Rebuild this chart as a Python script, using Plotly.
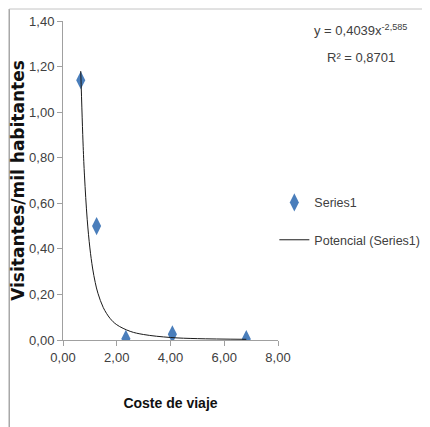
import plotly.graph_objects as go

# observed points
coste = [0.66, 1.25, 2.34, 4.07, 6.82]
visitantes = [1.14, 0.50, 0.005, 0.025, 0.004]

# power trend line
trend_x = [0.66, 0.75, 0.8, 0.9, 1.0, 1.1, 1.2, 1.3, 1.5, 1.75, 2.0, 2.5, 3.0, 4.0, 5.0, 6.82]
trend_y = [1.18, 0.85, 0.72, 0.53, 0.404, 0.316, 0.252, 0.205, 0.142, 0.095, 0.067, 0.038, 0.024, 0.011, 0.006, 0.003]

x_ticks = [0, 2, 4, 6, 8]
y_ticks = [0, 0.2, 0.4, 0.6, 0.8, 1.0, 1.2, 1.4]

eq_line = "y = 0,4039x<sup>-2,585</sup>"
r2_line = "R² = 0,8701"

sans = "Liberation Sans, Arial, sans-serif"
grey = "#404040"

fig = go.Figure()
fig.add_trace(go.Scatter(
    x=coste, y=visitantes, mode="markers", name="Series1",
    marker=dict(symbol="diamond-tall", size=13, color="#4A7EBB"),
    legend="legend",
))
fig.add_trace(go.Scatter(
    x=trend_x, y=trend_y, mode="lines", name="Potencial (Series1)",
    line=dict(color="#1a1a1a", width=1, shape="spline"),
    legend="legend2",
))

legend_style = dict(xanchor="left", yanchor="middle", itemwidth=30,
                    font=dict(family=sans, size=12.5, color=grey),
                    bgcolor="rgba(0,0,0,0)", borderwidth=0)

# the page sits 8px in from the window corner, so margins are shifted
fig.update_layout(
    width=430, height=427,
    margin=dict(l=55, r=160, t=13, b=95, autoexpand=False),
    paper_bgcolor="white", plot_bgcolor="white",
    separators=",.",
    showlegend=True,
    font=dict(family=sans, size=13, color=grey),
    legend=dict(x=0.983, y=0.43, **legend_style),
    legend2=dict(x=0.983, y=0.313, **legend_style),
    shapes=[
        dict(type="line", xref="paper", yref="paper",
             x0=-0.25, x1=-0.25, y0=-0.3, y1=1.0376,
             line=dict(color="#a8a8a8", width=1.5)),
        dict(type="line", xref="paper", yref="paper",
             x0=-0.25, x1=1.8, y0=1.0376, y1=1.0376,
             line=dict(color="#c4c4c4", width=1)),
    ],
    annotations=[
        dict(xref="paper", yref="paper", x=1.386, y=0.972,
             xanchor="center", yanchor="middle",
             showarrow=False, text=eq_line,
             font=dict(family=sans, size=13, color=grey)),
        dict(xref="paper", yref="paper", x=1.386, y=0.887,
             xanchor="center", yanchor="middle",
             showarrow=False, text=r2_line,
             font=dict(family=sans, size=13, color=grey)),
    ],
)

fig.update_xaxes(
    range=[0, 8], tickvals=x_ticks, tickformat=".2f",
    showline=True, linecolor="#a0a0a0", linewidth=1,
    ticks="outside", ticklen=5, tickcolor="#a0a0a0",
    showgrid=False, zeroline=False, automargin=False,
    title=dict(text="<b>Coste de viaje</b>", standoff=34,
               font=dict(family=sans, size=14, color="#111")),
)
fig.update_yaxes(
    range=[0, 1.4], tickvals=y_ticks, tickformat=".2f",
    showline=True, linecolor="#a0a0a0", linewidth=1,
    ticks="outside", ticklen=5, tickcolor="#a0a0a0",
    showgrid=False, zeroline=False, automargin=False,
    title=dict(text="<b>Visitantes/mil habitantes</b>", standoff=1,
               font=dict(family="DejaVu Sans, sans-serif", size=17, color="#111")),
)

fig.write_html("out.html")
